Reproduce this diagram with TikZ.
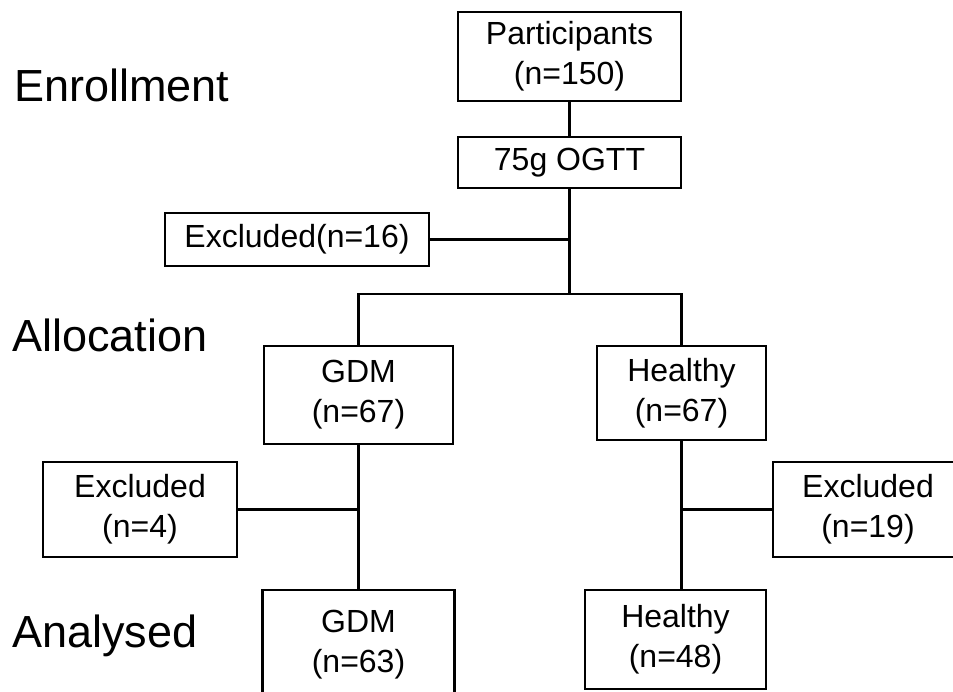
\documentclass[tikz,border=0pt]{standalone}
\usepackage{fontspec}
\setmainfont{Liberation Sans}
\usetikzlibrary{shapes}
\newcommand\boxfont{\fontsize{32}{40}\selectfont}
\newcommand\stagefont{\fontsize{45}{54}\selectfont}

\begin{document}
\begin{tikzpicture}[x=1pt,y=-1pt,
  box/.style={draw,line width=2.5pt,align=center,inner sep=0pt,font=\boxfont},
  stage/.style={anchor=base west,inner sep=0pt,font=\stagefont},
  link/.style={line width=2.5pt}]
\useasboundingbox (0,0) rectangle (953,692);

% to write stages
\node [stage] (enrol) at (14,102) {Enrollment};
\node [stage] (alloc) at (12,352) {Allocation};
\node [stage] (anal) at (12,647) {Analysed};

% to draw boxes
\node [box,minimum width=223pt,minimum height=89pt] (part) at (569.5,56.5) {Participants\\(n=150)};
\node [box,minimum width=223pt,minimum height=51pt] (ogtt) at (569.5,162.5) {75g OGTT};
\node [box,minimum width=264pt,minimum height=53pt] (exc1) at (297,239.5) {Excluded(n=16)};
\node [box,minimum width=189pt,minimum height=98pt] (gdm1) at (358.5,395) {GDM\\(n=67)};
\node [box,minimum width=169pt,minimum height=94pt] (hea1) at (681.5,393) {Healthy\\(n=67)};
\node [box,minimum width=194pt,minimum height=95pt] (exc2) at (140,509.5) {Excluded\\(n=4)};
\node [box,minimum width=190pt,minimum height=95pt] (exc3) at (868,509.5) {Excluded\\(n=19)};
\node [box,minimum width=192pt,minimum height=110pt] (gdm2) at (358.5,645) {GDM\\(n=63)};
\node [box,minimum width=181pt,minimum height=99pt] (hea2) at (675.5,639.5) {Healthy\\(n=48)};

% to draw connectors
\coordinate (split) at (569.5,294);
\draw [link] (part) -- (ogtt);
\draw [link] (ogtt) -- (split);
\draw [link] (exc1.east) -- (exc1.east -| split);
\draw [link] (gdm1.north) |- (split) -| (hea1.north);
\draw [link] (gdm1) -- (gdm2);
\draw [link] (exc2.east) -- (exc2.east -| gdm1.south);
\draw [link] (hea1.south) -- (hea1.south |- hea2.north);
\draw [link] (exc3.west) -- (exc3.west -| hea1.south);
\end{tikzpicture}
\end{document}
